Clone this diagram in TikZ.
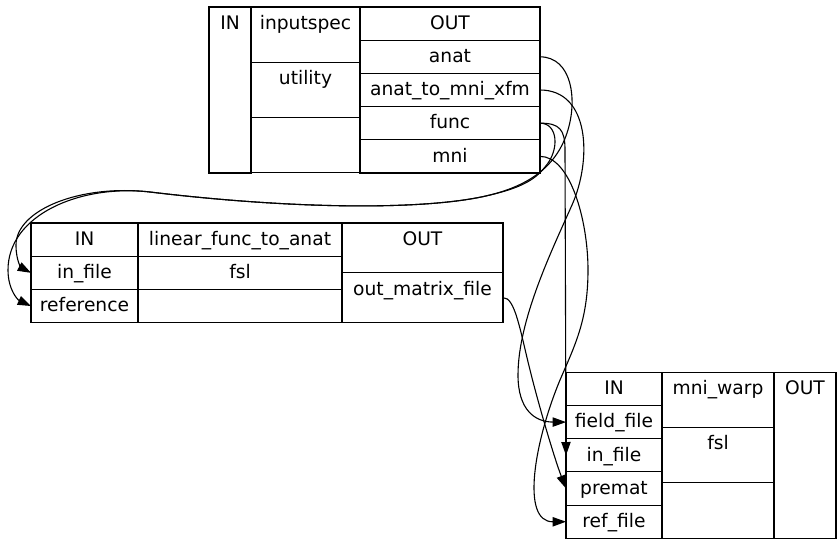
\documentclass[tikz,border=0pt]{standalone}
\usepackage{fontspec}
\setmainfont{DejaVu Sans}
\usetikzlibrary{arrows.meta}

\tikzset{
  cell/.style={draw, line width=1.1pt, inner sep=0pt, outer sep=0pt, anchor=north west, text height=22.3pt},
  row/.style={text depth=10.9pt},
  tall/.style={text depth=33pt},
  half/.style={text depth=27.5pt},
  full/.style={text depth=143.7pt},
  wire/.style={->, line width=1.1pt},
}

\begin{document}
\begin{tikzpicture}[x=1pt, y=-1pt, >={Triangle[length=13.3pt,width=9.3pt]},
    font=\fontsize{18.67pt}{22pt}\selectfont]
  \useasboundingbox (0,0) rectangle (840,544);

  % inputspec
  \node[cell, full, minimum width=42pt] (ain) at (209,7) {IN};
  \node[cell, tall, minimum width=109pt] (aname) at (ain.north east) {inputspec};
  \node[cell, tall, minimum width=109pt] (apkg) at (aname.south west) {utility};
  \node[cell, tall, minimum width=109pt] (ablank) at (apkg.south west) {};
  \node[cell, row, minimum width=180pt] (aout) at (aname.north east) {OUT};
  \node[cell, row, minimum width=180pt] (anat) at (aout.south west) {anat};
  \node[cell, row, minimum width=180pt] (xfm) at (anat.south west) {anat\_to\_mni\_xfm};
  \node[cell, row, minimum width=180pt] (func) at (xfm.south west) {func};
  \node[cell, row, minimum width=180pt] (mni) at (func.south west) {mni};

  % linear_func_to_anat
  \node[cell, row, minimum width=107pt] (bin) at (31,223) {IN};
  \node[cell, row, minimum width=107pt] (infile) at (bin.south west) {in\_file};
  \node[cell, row, minimum width=107pt] (refr) at (infile.south west) {reference};
  \node[cell, row, minimum width=204pt] (bname) at (bin.north east) {linear\_func\_to\_anat};
  \node[cell, row, minimum width=204pt] (bpkg) at (bname.south west) {fsl};
  \node[cell, row, minimum width=204pt] (bblank) at (bpkg.south west) {};
  \node[cell, half, minimum width=161pt] (bout) at (bname.north east) {OUT};
  \node[cell, half, minimum width=161pt] (outmat) at (bout.south west) {out\_matrix\_file};

  % mni_warp
  \node[cell, row, minimum width=96pt] (cin) at (566,372.3) {IN};
  \node[cell, row, minimum width=96pt] (field) at (cin.south west) {field\_file};
  \node[cell, row, minimum width=96pt] (cinfile) at (field.south west) {in\_file};
  \node[cell, row, minimum width=96pt] (premat) at (cinfile.south west) {premat};
  \node[cell, row, minimum width=96pt] (reffile) at (premat.south west) {ref\_file};
  \node[cell, tall, minimum width=112pt] (cname) at (cin.north east) {mni\_warp};
  \node[cell, tall, minimum width=112pt] (cpkg) at (cname.south west) {fsl};
  \node[cell, tall, minimum width=112pt] (cblank) at (cpkg.south west) {};
  \node[cell, full, minimum width=62pt] (cout) at (cname.north east) {OUT};

  % connections
  \draw[wire] (anat.east) .. controls (572,57) and (578,100) .. (567,133)
    .. controls (556,166) and (530,185) .. (490,195)
    .. controls (430,210) and (300,210) .. (150,192)
    .. controls (80,184) and (8,215) .. (8,270)
    .. controls (8,290) and (18,300) .. (refr.west);
  \draw[wire] (func.east) .. controls (558,123) and (560,150) .. (545,167)
    .. controls (535,180) and (520,188) .. (490,195)
    .. controls (430,210) and (300,210) .. (150,192)
    .. controls (80,184) and (16,210) .. (16,245)
    .. controls (16,262) and (22,268) .. (infile.west);
  \draw[wire] (func.east) .. controls (560,123) and (565,130) .. (565,150)
    -- (cinfile.west);
  \draw[wire] (xfm.east) .. controls (590,90) and (592,160) .. (572,205)
    .. controls (552,250) and (518,320) .. (518,375)
    .. controls (518,410) and (535,422) .. (field.west);
  \draw[wire] (mni.east) .. controls (570,156) and (588,220) .. (588,270)
    .. controls (588,320) and (575,345) .. (560,380)
    .. controls (535,440) and (520,522) .. (reffile.west);
  \draw[wire] (outmat.east) .. controls (515,297) and (520,330) .. (530,370)
    .. controls (540,410) and (555,460) .. (premat.west);
\end{tikzpicture}
\end{document}
